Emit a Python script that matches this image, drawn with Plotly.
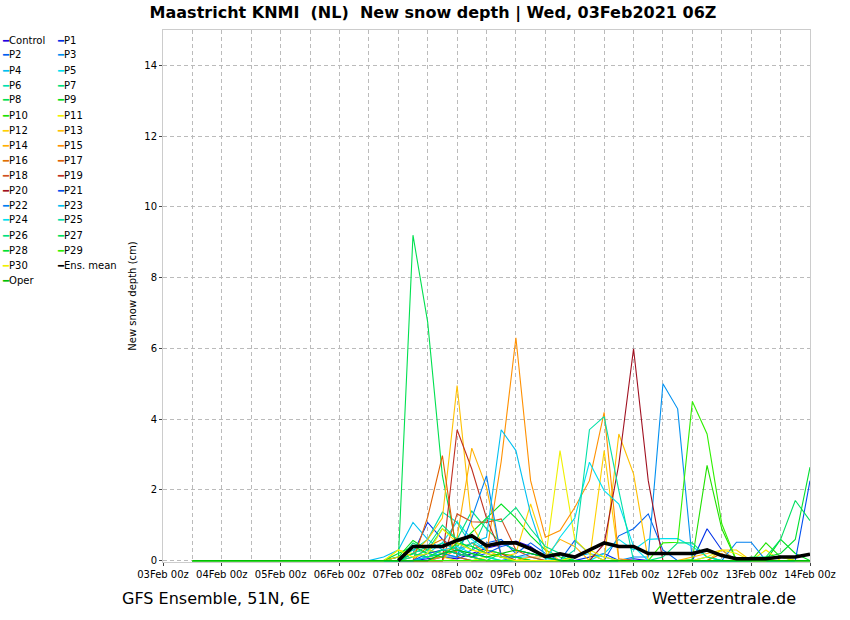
import pandas as pd
import plotly.graph_objects as go

# 6-hourly steps of the 03Feb2021 06Z run, first plotted step 03Feb 12z
times = pd.date_range("2021-02-03 12:00", "2021-02-14 00:00", freq="6h")
lead = [0.0] * 13  # 03Feb 12z .. 06Feb 12z: every run shows 0 cm

# values from 06Feb 18z to 14Feb 00z (30 steps), cm of new snow
control = [0, 0, 0, 0.05, 0.1, 0.05, 0.2, 0.35, 0.45, 0.55, 0.4, 0.1, 0, 0, 0, 0, 0, 0.05, 0, 0, 0, 0, 0, 0, 0, 0, 0, 0, 0, 0]
p1 = [0, 0, 0.2, 1.08, 0.6, 0.3, 0.1, 0.4, 0.5, 0.3, 0.2, 0.1, 0, 0, 0.1, 0.2, 0, 0, 0, 0, 0, 0, 0.9, 0.3, 0, 0, 0, 0, 0, 0]
p2 = [0, 0, 0, 0, 0.1, 0.1, 0.3, 0.5, 0.6, 0.2, 0.5, 0.2, 0, 0.57, 0.2, 0, 0.7, 0.9, 1.32, 0.3, 0, 0, 0, 0, 0, 0, 0, 0, 0, 0]
p3 = [0, 0, 0, 0.1, 0.2, 0.1, 0, 0, 0, 0.1, 0, 0, 0, 0, 0, 0, 0, 0.1, 0.1, 5.0, 4.29, 0, 0, 0, 0, 0, 0, 0, 0, 0]
p4 = [0.1, 0.3, 1.08, 0.6, 0.3, 0.2, 0.5, 0.3, 0.2, 0.1, 0.1, 0, 0, 0.1, 0.2, 0.1, 0, 0, 0, 0, 0, 0, 0.1, 0, 0, 0, 0, 0, 0, 0]
p5 = [0, 0.1, 0.3, 0.2, 0.5, 1.1, 0.6, 0.3, 0.2, 0.1, 0, 0, 0, 0, 0, 0.2, 0.6, 0.3, 0.6, 0.62, 0.62, 0.4, 0.1, 0, 0, 0, 0, 0, 0, 0]
p6 = [0, 0.1, 0.3, 0.6, 1.37, 1.08, 0.4, 0.2, 0.1, 0, 0, 0, 0, 0, 0, 0, 0, 0, 0, 0, 0, 0, 0, 0, 0, 0, 0, 0, 0, 0]
p7 = [0, 0, 0.5, 0.3, 0.9, 0.6, 1.4, 0.9, 0.5, 0.3, 0.2, 0.1, 0, 0, 0, 0, 0, 0, 0, 0, 0, 0, 0, 0, 0, 0, 0, 0, 0, 0]
p8 = [0, 0, 9.2, 6.74, 2.4, 0.3, 0.1, 0, 0.2, 0.1, 0, 0, 0, 0, 0, 0, 0, 0, 0, 0, 0, 0, 0, 0, 0, 0, 0, 0, 0, 0]
p9 = [0, 0.1, 0.57, 0.3, 0.2, 0.4, 0.8, 1.2, 1.6, 1.2, 0.7, 0.3, 0.1, 0, 0, 0, 0, 0, 0, 0, 0, 0, 0, 0, 0, 0, 0, 0.6, 0.2, 0]
p10 = [0, 0, 0.1, 0.2, 0.3, 0.2, 0.1, 0.3, 0.2, 0.1, 0, 0, 0, 0, 0, 0, 0, 0, 0, 0, 0, 0.03, 2.69, 0.9, 0, 0, 0.5, 0.1, 0, 0]
p11 = [0, 0.3, 0.2, 0.1, 0.1, 0, 0, 0.1, 0.2, 0, 0, 0, 3.11, 0.6, 0.2, 0, 0, 0, 0, 0, 0, 0, 0, 0, 0, 0, 0.3, 0, 0, 0]
p12 = [0, 0, 0.1, 0.3, 0.2, 0.5, 0.3, 0.2, 0.1, 0.2, 1.6, 0.3, 0, 0, 0, 3.11, 0, 0, 0, 0, 0, 0, 0, 0.3, 0.3, 0, 0, 0, 0, 0]
p13 = [0, 0.1, 0.2, 0.6, 1.2, 4.95, 1.0, 0.3, 0.1, 0, 0, 0, 0, 0, 0, 0, 3.58, 2.45, 0, 0, 0, 0, 0, 0, 0, 0, 0, 0, 0, 0]
p14 = [0, 0, 0, 0, 0, 0.66, 3.18, 2.07, 0.1, 0, 0.1, 0.1, 0.6, 0.4, 0, 0, 0, 0, 0, 0, 0, 0.1, 0.2, 0.3, 0, 0, 0, 0, 0, 0]
p15 = [0, 0, 0, 0, 0.1, 0.3, 0.5, 0.2, 2.8, 6.3, 2.26, 0.66, 0.85, 1.5, 2.26, 4.19, 0.05, 0, 0, 0, 0, 0, 0, 0, 0, 0, 0, 0, 0, 0]
p16 = [0, 0, 0, 0.4, 0.6, 0.2, 0.1, 0, 0, 0, 0, 0, 0, 0, 0, 0, 0, 0, 0, 0, 0, 0, 0, 0.2, 0, 0, 0, 0, 0, 0]
p17 = [0, 0, 0, 1.23, 2.97, 0.1, 0, 0, 0, 0, 0, 0, 0, 0, 0, 0, 0, 0, 0, 0, 0, 0, 0, 0, 0, 0, 0, 0, 0, 0]
p18 = [0, 0, 0, 0, 0, 1.32, 1.1, 1.08, 1.18, 0.3, 0.1, 0, 0, 0, 0, 0, 0, 0, 0, 0, 0, 0, 0, 0, 0, 0.1, 0, 0, 0, 0]
p19 = [0, 0, 0, 0, 0, 3.7, 2.59, 1.2, 0.2, 0, 0, 0, 0, 0, 0, 0, 0, 0, 0, 0, 0, 0, 0, 0, 0, 0, 0, 0, 0, 0]
p20 = [0, 0, 0, 0, 0, 0, 0, 0, 0, 0, 0, 0, 0, 0, 0, 0.47, 2.73, 5.99, 2.26, 0, 0, 0, 0, 0, 0, 0, 0, 0, 0, 0]
p21 = [0, 0, 0, 0.2, 0.3, 0.2, 0.1, 0.2, 0.4, 0.5, 0.3, 0.1, 0, 0, 0, 0, 0, 0, 0, 0, 0, 0, 0, 0, 0, 0, 0, 0, 0, 2.26]
p22 = [0, 0, 0, 0.1, 0.2, 0.1, 1.2, 2.4, 0.1, 0.1, 0.2, 0.1, 0, 0, 0, 0, 0, 0, 0, 0, 0, 0, 0, 0, 0.52, 0.52, 0, 0, 0, 0]
p23 = [0, 0, 0, 0.1, 0.2, 0.3, 0.5, 0.66, 3.7, 3.11, 1.32, 0.06, 0, 0, 0, 0, 0, 0, 0, 0, 0, 0, 0, 0, 0, 0, 0, 0, 0, 0]
p24 = [0, 0, 0.2, 0.1, 0.3, 0.4, 0.2, 0.1, 0, 0, 0, 0, 0.66, 1.2, 2.78, 1.98, 1.6, 0.4, 0, 0, 0, 0, 0, 0, 0, 0, 0, 0, 0, 0]
p25 = [0, 0, 0.1, 0.3, 0.5, 0.3, 0.2, 0.1, 0, 0, 0, 0, 0, 0.3, 3.7, 4.07, 1.98, 0, 0, 0, 0, 0, 0, 0, 0, 0, 0, 0, 0, 0]
p26 = [0, 0, 0.2, 0.4, 1.0, 0.6, 0.3, 1.2, 1.1, 1.5, 0.9, 0.4, 0.2, 0, 0, 0, 0, 0, 0, 0.1, 0.5, 0.5, 0.1, 0, 0, 0, 0, 0, 0, 0]
p27 = [0, 0, 0.2, 0.1, 0.3, 0.2, 0.1, 0, 0, 0, 0, 0, 0, 0, 0, 0, 0, 0, 0, 0, 0, 0, 0, 0, 0, 0.1, 0.1, 0.6, 1.7, 1.13]
p28 = [0, 0.2, 0.4, 0.2, 0.1, 0.5, 0.4, 0.2, 0.1, 0, 0, 0, 0, 0, 0, 0, 0, 0, 0, 0, 0, 0, 0, 0, 0, 0, 0.1, 0.2, 0.6, 2.64]
p29 = [0, 0, 0, 0, 0, 0, 0, 0, 0, 0, 0, 0, 0, 0, 0, 0, 0, 0, 0, 0.5, 0.52, 4.5, 3.58, 1.04, 0, 0, 0, 0, 0, 0]
p30 = [0, 0.3, 0.1, 0.2, 0.9, 0.5, 0.3, 0.2, 0.1, 0, 0, 0, 0, 0.1, 0.3, 0.1, 0, 0, 0, 0, 0, 0, 0.1, 0.3, 0.2, 0, 0, 0.1, 0, 0]
oper = [0, 0, 0, 0, 0.2, 0.3, 0.2, 0.1, 0.2, 0.3, 0.2, 0.1, 0, 0, 0, 0, 0, 0, 0, 0, 0, 0, 0, 0, 0, 0, 0, 0, 0, 0]

# ensemble mean, drawn from 07Feb 00z on
ens_mean = [0, 0.4, 0.4, 0.4, 0.57, 0.7, 0.42, 0.5, 0.5, 0.33, 0.11, 0.19, 0.1, 0.3, 0.5, 0.4, 0.4,
            0.2, 0.2, 0.2, 0.2, 0.3, 0.14, 0.05, 0.05, 0.05, 0.1, 0.1, 0.18]

names = ["Control"] + ["P%d" % i for i in range(1, 31)] + ["Oper"]
runs = [control, p1, p2, p3, p4, p5, p6, p7, p8, p9, p10, p11, p12, p13, p14, p15,
        p16, p17, p18, p19, p20, p21, p22, p23, p24, p25, p26, p27, p28, p29, p30, oper]
colors = ["#2400e0", "#0030e8", "#0060f0", "#0090f0", "#00c0f0", "#00e0f0", "#00e0b0",
          "#00e080", "#00e050", "#00e020", "#20e000", "#f0f000", "#ffd000", "#ffc000",
          "#ffb000", "#ff9000", "#e07000", "#e06000", "#d05020", "#c03020", "#a01020",
          "#0050f0", "#0080f0", "#00c0f0", "#00e0f0", "#00e0a8", "#00e080", "#00e060",
          "#00e030", "#30f000", "#f0f000", "#00c000"]

fig = go.Figure()
for name, vals, col in zip(names, runs, colors):
    assert len(vals) == 30, name
    fig.add_trace(go.Scatter(x=times, y=lead + vals, name=name, mode="lines",
                             line=dict(color=col, width=1.1), showlegend=False))
fig.add_trace(go.Scatter(x=times[-len(ens_mean):], y=ens_mean, name="Ens. mean", mode="lines",
                         line=dict(color="black", width=3.6), showlegend=False))

# two-column legend on the left, as in the original (short coloured dash + label)
pl, pr, pt, pb = 163, 40, 30, 58
pw, ph = 850 - pl - pr, 620 - pt - pb
legend_names = ["Control"] + ["P%d" % i for i in range(1, 31)] + ["Ens. mean", "Oper"]
legend_colors = colors[:31] + ["#000000", colors[31]]
for i, (nm, col) in enumerate(zip(legend_names, legend_colors)):
    px_x = 0 if i % 2 == 0 else 55
    px_y = 40 + 15 * (i // 2)
    fig.add_annotation(x=(px_x - pl) / pw, y=(620 - pb - px_y) / ph, xref="paper", yref="paper",
                       xanchor="left", yanchor="middle", showarrow=False,
                       text="<span style='color:%s'><b>━</b></span>%s" % (col, nm),
                       font=dict(size=10, color="black"))

fig.add_annotation(x=(120 - pl) / pw, y=(620 - pb - 598) / ph, xref="paper", yref="paper",
                   xanchor="left", yanchor="middle", showarrow=False,
                   text="GFS Ensemble, 51N, 6E", font=dict(size=16, color="black"))
fig.add_annotation(x=(650 - pl) / pw, y=(620 - pb - 598) / ph, xref="paper", yref="paper",
                   xanchor="left", yanchor="middle", showarrow=False,
                   text="Wetterzentrale.de", font=dict(size=16, color="black"))

grid = dict(showgrid=True, gridcolor="#bbbbbb", griddash="4px,3px", gridwidth=1)
fig.update_layout(
    width=850, height=620,
    margin=dict(l=pl, r=pr, t=pt, b=pb),
    paper_bgcolor="white", plot_bgcolor="white",
    font=dict(family="DejaVu Sans", size=10, color="black"),
    title=dict(text="<b>Maastricht KNMI  (NL)  New snow depth | Wed, 03Feb2021 06Z</b>",
               x=433 / 850, xanchor="center", y=1 - 12 / 620, yanchor="middle",
               font=dict(size=16, color="black")),
    xaxis=dict(type="date", range=["2021-02-03 00:00", "2021-02-14 00:00"],
               tick0="2021-02-03", dtick=86400000, tickformat="%d%b %Hz",
               ticks="outside", ticklen=3, tickcolor="#444",
               showline=True, linecolor="#cccccc", mirror=True,
               minor=dict(dtick=43200000, **grid),
               title=dict(text="Date (UTC)", font=dict(size=10), standoff=6),
               **grid),
    yaxis=dict(range=[-0.04, 15], tick0=0, dtick=2, zeroline=False,
               ticks="outside", ticklen=3, tickcolor="#444",
               showline=True, linecolor="#cccccc", mirror=True,
               title=dict(text="New snow depth (cm)", font=dict(size=10), standoff=5),
               **grid),
)

# the page's default 8px body margin would push the whole picture down and right
fig.write_html("out.html", config={"displayModeBar": False},
               post_script="document.body.style.margin = '0px';")
